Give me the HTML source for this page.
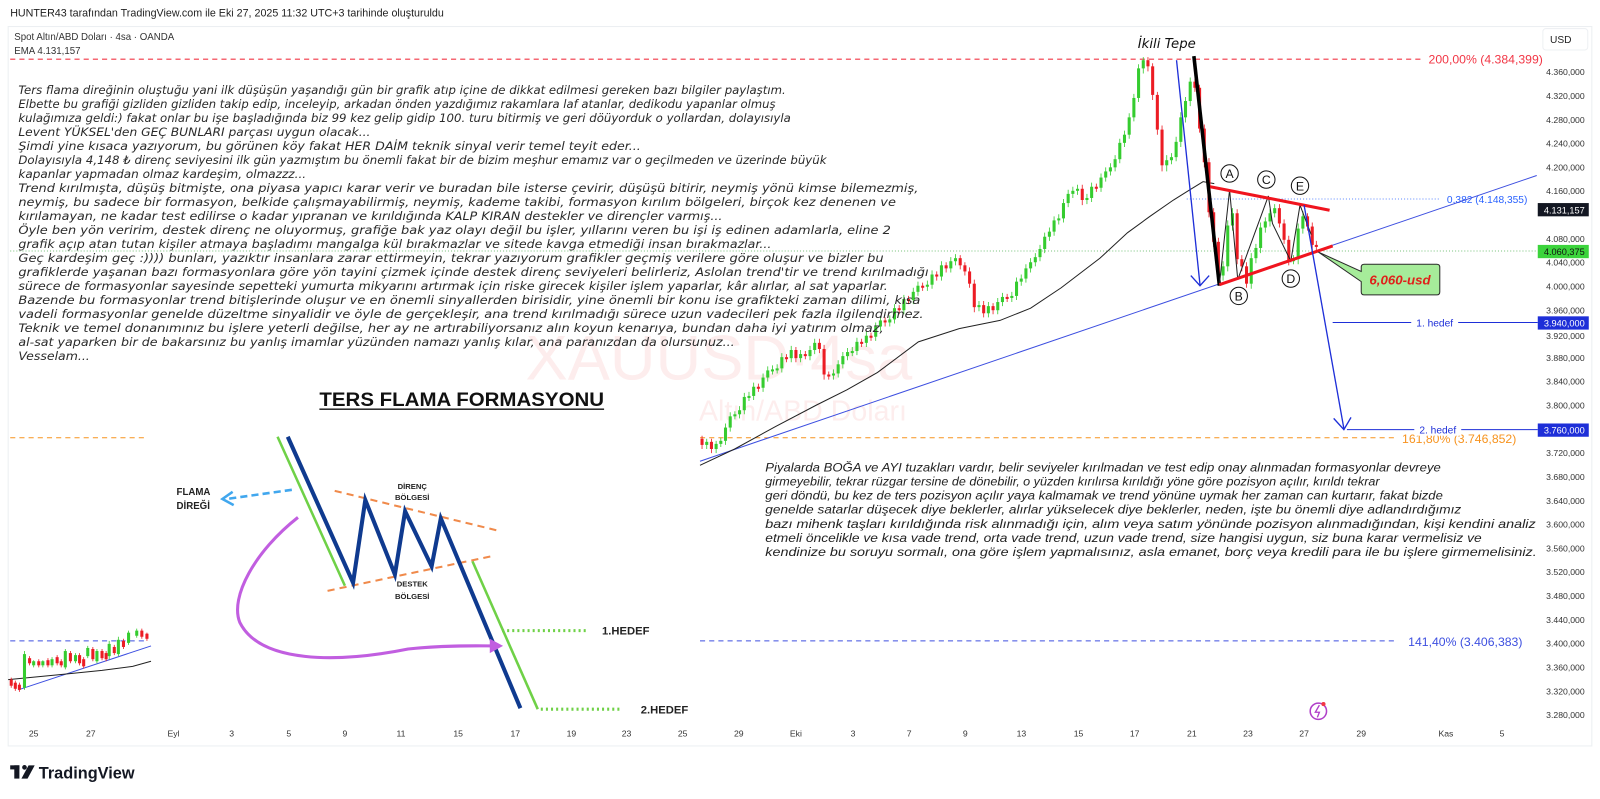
<!DOCTYPE html>
<html><head><meta charset="utf-8"><style>
html,body{margin:0;padding:0;background:#fff;overflow:hidden}
svg{display:block}
.lt{font-family:"DejaVu Sans","Liberation Sans",sans-serif;font-style:italic;font-size:11.6px;fill:#2a2a2a}
.rt{font-family:"Liberation Sans",sans-serif;font-style:italic;font-size:12px;fill:#222}
.ax{font-family:"Liberation Sans",sans-serif;font-size:8.5px;fill:#333}
.tx{font-family:"Liberation Sans",sans-serif;font-size:8.5px;fill:#333;text-anchor:middle}
.b{font-family:"Liberation Sans",sans-serif;font-weight:bold;fill:#222}
.g{fill:#35cc2f}.r{fill:#ec1c24}
</style></head><body>
<svg width="1600" height="799" viewBox="0 0 1568 783" preserveAspectRatio="none" xmlns="http://www.w3.org/2000/svg">
<rect x="0" y="0" width="1568" height="783" fill="#fff"/>
<text x="10" y="16" font-family="Liberation Sans,sans-serif" font-size="10.5" fill="#222">HUNTER43 tarafından TradingView.com ile Eki 27, 2025 11:32 UTC+3 tarihinde oluşturuldu</text>
<rect x="8" y="26" width="1552" height="705" fill="none" stroke="#eceff2" stroke-width="1"/>
<text x="14" y="39" font-family="Liberation Sans,sans-serif" font-size="9.5" fill="#333">Spot Altın/ABD Doları · 4sa · OANDA</text>
<text x="14" y="53" font-family="Liberation Sans,sans-serif" font-size="9.5" fill="#333">EMA  4.131,157</text>
<text x="515" y="372" font-family="Liberation Sans,sans-serif" font-size="62" fill="#fdeded">XAUUSD·4sa</text>
<text x="685" y="412" font-family="Liberation Sans,sans-serif" font-size="28" fill="#fdeded">Altın/ABD Doları</text>
<line x1="10" y1="58" x2="1395" y2="58" stroke="#f23645" stroke-width="1" stroke-dasharray="5,4"/>
<text x="1400" y="62" font-family="Liberation Sans,sans-serif" font-size="12" fill="#f23645">200,00% (4.384,399)</text>
<line x1="10" y1="246" x2="1507" y2="246" stroke="#4caf50" stroke-width="0.8" stroke-dasharray="1,2"/>
<line x1="1163" y1="195" x2="1410" y2="195" stroke="#2962ff" stroke-width="0.8" stroke-dasharray="1,2"/>
<text x="1418" y="199" font-family="Liberation Sans,sans-serif" font-size="10" fill="#2962ff">0,382 (4.148,355)</text>
<line x1="10" y1="429" x2="145" y2="429" stroke="#f7931e" stroke-width="1" stroke-dasharray="5,4"/>
<line x1="686" y1="429" x2="1368" y2="429" stroke="#f7931e" stroke-width="1" stroke-dasharray="5,4"/>
<text x="1374" y="434" font-family="Liberation Sans,sans-serif" font-size="12" fill="#f7931e">161,80% (3.746,852)</text>
<line x1="10" y1="628" x2="145" y2="628" stroke="#3d4fe0" stroke-width="1" stroke-dasharray="5,4"/>
<line x1="686" y1="628" x2="1368" y2="628" stroke="#3d4fe0" stroke-width="1" stroke-dasharray="5,4"/>
<text x="1380" y="633" font-family="Liberation Sans,sans-serif" font-size="12" fill="#3d4fe0">141,40% (3.406,383)</text>
<line x1="1306" y1="316" x2="1507" y2="316" stroke="#1e2fd8" stroke-width="1"/>
<rect x="1383" y="310" width="46" height="12" fill="#fff"/>
<text x="1406" y="320" text-anchor="middle" font-family="Liberation Sans,sans-serif" font-size="10" fill="#1e2fd8">1. hedef</text>
<line x1="1320" y1="421" x2="1507" y2="421" stroke="#1e2fd8" stroke-width="1"/>
<rect x="1386" y="415" width="46" height="12" fill="#fff"/>
<text x="1409" y="425" text-anchor="middle" font-family="Liberation Sans,sans-serif" font-size="10" fill="#1e2fd8">2. hedef</text>
<line x1="686" y1="452" x2="1506" y2="172" stroke="#3d4fe0" stroke-width="1"/>
<polyline fill="none" stroke="#222" stroke-width="1" points="686,456 720,440 760,418 800,397 830,382 860,365 900,335 940,322 980,314 1010,302 1040,282 1078,253 1105,228 1127,212 1150,196 1166,186 1179,178 1190,180"/>
<path stroke="#35cc2f" stroke-width="0.8" d="M692.6 430V440M701.8 432V444M706.4 429V438M711 415V436M715.6 404V423M720.2 403V411M724.8 398V410M729.4 385V406M734 384V393M738.6 375V392M747.8 366V384M752.4 359V374M757 358V367M761.6 357V366M766.2 346V365M775.4 339V355M784.6 343V355M793.8 339V353M798.4 332V347M816.8 362V372M821.4 353V370M826 345V361M830.6 341V353M835.2 340V349M839.8 331V348M849 325V340M858.2 316V334M862.8 310V324M872 309V320M876.6 298V317M885.8 289V308M895 282V298M899.6 276V290M908.8 275V285M913.4 265V283M922.6 256V275M931.8 252V267M936.4 249V260M959.4 295V305M968.6 296V311M977.8 292V308M982.4 287V300M991.6 286V296M996.2 272V294M1000.8 269V280M1005.4 259V277M1010 253V267M1014.6 248V261M1019.2 240V256M1023.8 228V248M1028.4 223V236M1033 212V231M1037.6 210V220M1042.2 195V218M1046.8 186V203M1051.4 183V194M1056 181V191M1065.2 190V200M1069.8 179V198M1079 170V188M1083.6 164V178M1088.2 160V172M1092.8 152V168M1097.4 136V160M1102 128V144M1106.6 111V136M1111.2 92V119M1115.8 63V100M1120.4 56V72M1143.4 152V168M1148 150V161M1152.6 134V158M1157.2 110V144M1161.8 95V120M1166.4 76V104M1198.6 256V275M1203.2 216V266M1207.8 204V226M1226.2 248V283M1230.8 239V258M1235.4 218V248M1240 213V228M1244.6 205V222M1249.2 200V213M1267.6 250V259M1272.2 219V259M1276.8 207V229"/>
<path stroke="#ec1c24" stroke-width="0.8" d="M688 427V440M697.2 430V444M743.2 376V384M770.8 347V355M780 340V355M789.2 344V352M803 332V346M807.6 338V372M812.2 364V372M844.4 332V340M853.6 326V334M867.4 311V320M881.2 299V308M890.4 290V298M904.2 277V285M918 266V275M927.2 257V267M941 250V264M945.6 257V270M950.2 262V282M954.8 274V306M964 295V311M973.2 297V308M987 288V296M1060.6 181V201M1074.4 180V188M1125 56V70M1129.6 62V98M1134.2 90V132M1138.8 123V168M1171 77V90M1175.6 83V130M1180.2 122V164M1184.8 155V213M1189.4 204V242M1194 233V276M1212.4 205V259M1217 250V266M1221.6 257V282M1253.8 200V223M1258.4 215V239M1263 231V260M1281.4 209V226M1286 218V245M1290 236V246"/>
<g class="g">
<rect x="691.1" y="433" width="3" height="3"/><rect x="700.3" y="435" width="3" height="5"/><rect x="704.9" y="432" width="3" height="3"/><rect x="709.5" y="419" width="3" height="13"/><rect x="714.1" y="408" width="3" height="11"/><rect x="718.7" y="406" width="3" height="2"/><rect x="723.3" y="402" width="3" height="4"/><rect x="727.9" y="389" width="3" height="13"/><rect x="732.5" y="388" width="3" height="2"/><rect x="737.1" y="379" width="3" height="9"/><rect x="746.3" y="370" width="3" height="10"/><rect x="750.9" y="363" width="3" height="7"/><rect x="755.5" y="362" width="3" height="2"/><rect x="760.1" y="361" width="3" height="2"/><rect x="764.7" y="350" width="3" height="11"/><rect x="773.9" y="343" width="3" height="8"/><rect x="783.1" y="347" width="3" height="4"/><rect x="792.3" y="343" width="3" height="6"/><rect x="796.9" y="336" width="3" height="7"/><rect x="815.3" y="366" width="3" height="2"/><rect x="819.9" y="357" width="3" height="9"/><rect x="824.5" y="349" width="3" height="8"/><rect x="829.1" y="345" width="3" height="4"/><rect x="833.7" y="344" width="3" height="2"/><rect x="838.3" y="335" width="3" height="9"/><rect x="847.5" y="329" width="3" height="7"/><rect x="856.7" y="320" width="3" height="10"/><rect x="861.3" y="314" width="3" height="6"/><rect x="870.5" y="313" width="3" height="3"/><rect x="875.1" y="302" width="3" height="11"/><rect x="884.3" y="293" width="3" height="11"/><rect x="893.5" y="286" width="3" height="8"/><rect x="898.1" y="280" width="3" height="6"/><rect x="907.3" y="279" width="3" height="2"/><rect x="911.9" y="269" width="3" height="10"/><rect x="921.1" y="260" width="3" height="11"/><rect x="930.3" y="256" width="3" height="7"/><rect x="934.9" y="253" width="3" height="3"/><rect x="957.9" y="299" width="3" height="2"/><rect x="967.1" y="300" width="3" height="7"/><rect x="976.3" y="296" width="3" height="8"/><rect x="980.9" y="291" width="3" height="5"/><rect x="990.1" y="290" width="3" height="2"/><rect x="994.7" y="276" width="3" height="14"/><rect x="999.3" y="273" width="3" height="3"/><rect x="1003.9" y="263" width="3" height="10"/><rect x="1008.5" y="257" width="3" height="6"/><rect x="1013.1" y="252" width="3" height="5"/><rect x="1017.7" y="244" width="3" height="8"/><rect x="1022.3" y="232" width="3" height="12"/><rect x="1026.9" y="227" width="3" height="5"/><rect x="1031.5" y="216" width="3" height="11"/><rect x="1036.1" y="214" width="3" height="2"/><rect x="1040.7" y="199" width="3" height="15"/><rect x="1045.3" y="190" width="3" height="9"/><rect x="1049.9" y="187" width="3" height="3"/><rect x="1054.5" y="185" width="3" height="2"/><rect x="1063.7" y="194" width="3" height="2"/><rect x="1068.3" y="183" width="3" height="11"/><rect x="1077.5" y="174" width="3" height="10"/><rect x="1082.1" y="168" width="3" height="6"/><rect x="1086.7" y="164" width="3" height="4"/><rect x="1091.3" y="156" width="3" height="8"/><rect x="1095.9" y="140" width="3" height="16"/><rect x="1100.5" y="132" width="3" height="8"/><rect x="1105.1" y="115" width="3" height="17"/><rect x="1109.7" y="96" width="3" height="19"/><rect x="1114.3" y="67" width="3" height="29"/><rect x="1118.9" y="59" width="3" height="8"/><rect x="1141.9" y="157" width="3" height="5"/><rect x="1146.5" y="154" width="3" height="3"/><rect x="1151.1" y="139" width="3" height="15"/><rect x="1155.7" y="115" width="3" height="24"/><rect x="1160.3" y="99" width="3" height="16"/><rect x="1164.9" y="80" width="3" height="19"/><rect x="1197.1" y="261" width="3" height="9"/><rect x="1201.7" y="221" width="3" height="40"/><rect x="1206.3" y="209" width="3" height="12"/><rect x="1224.7" y="253" width="3" height="25"/><rect x="1229.3" y="243" width="3" height="10"/><rect x="1233.9" y="223" width="3" height="20"/><rect x="1238.5" y="217" width="3" height="6"/><rect x="1243.1" y="209" width="3" height="8"/><rect x="1247.7" y="204" width="3" height="5"/><rect x="1266.1" y="254" width="3" height="2"/><rect x="1270.7" y="224" width="3" height="30"/><rect x="1275.3" y="212" width="3" height="12"/>
</g>
<g class="r">
<rect x="686.5" y="430" width="3" height="6"/><rect x="695.7" y="433" width="3" height="7"/><rect x="741.7" y="379" width="3" height="2"/><rect x="769.3" y="350" width="3" height="2"/><rect x="778.5" y="343" width="3" height="8"/><rect x="787.7" y="347" width="3" height="2"/><rect x="801.5" y="336" width="3" height="6"/><rect x="806.1" y="342" width="3" height="25"/><rect x="810.7" y="367" width="3" height="2"/><rect x="842.9" y="335" width="3" height="2"/><rect x="852.1" y="329" width="3" height="2"/><rect x="865.9" y="314" width="3" height="2"/><rect x="879.7" y="302" width="3" height="2"/><rect x="888.9" y="293" width="3" height="2"/><rect x="902.7" y="280" width="3" height="2"/><rect x="916.5" y="269" width="3" height="2"/><rect x="925.7" y="260" width="3" height="3"/><rect x="939.5" y="253" width="3" height="7"/><rect x="944.1" y="260" width="3" height="6"/><rect x="948.7" y="266" width="3" height="12"/><rect x="953.3" y="278" width="3" height="23"/><rect x="962.5" y="299" width="3" height="8"/><rect x="971.7" y="300" width="3" height="4"/><rect x="985.5" y="291" width="3" height="2"/><rect x="1059.1" y="185" width="3" height="11"/><rect x="1072.9" y="183" width="3" height="2"/><rect x="1123.5" y="59" width="3" height="6"/><rect x="1128.1" y="65" width="3" height="28"/><rect x="1132.7" y="93" width="3" height="34"/><rect x="1137.3" y="127" width="3" height="35"/><rect x="1169.5" y="80" width="3" height="6"/><rect x="1174.1" y="86" width="3" height="40"/><rect x="1178.7" y="126" width="3" height="33"/><rect x="1183.3" y="159" width="3" height="49"/><rect x="1187.9" y="208" width="3" height="29"/><rect x="1192.5" y="237" width="3" height="33"/><rect x="1210.9" y="209" width="3" height="45"/><rect x="1215.5" y="254" width="3" height="7"/><rect x="1220.1" y="261" width="3" height="17"/><rect x="1252.3" y="204" width="3" height="15"/><rect x="1256.9" y="219" width="3" height="16"/><rect x="1261.5" y="235" width="3" height="20"/><rect x="1279.9" y="212" width="3" height="10"/><rect x="1284.5" y="222" width="3" height="18"/><rect x="1288.5" y="240" width="3" height="2"/>
</g>
<line x1="18" y1="676" x2="148" y2="633" stroke="#3d4fe0" stroke-width="1"/>
<polyline fill="none" stroke="#222" stroke-width="1" points="8,666 60,661 100,657 130,653 148,648"/>
<path stroke="#35cc2f" stroke-width="0.8" d="M24 638V676M33 647V654M42 647V654M51 644V654M64 636V656M74 640V650M86 633V645M95 636V650M107 628V646M116 624V643M126 618V632M134 616V625"/>
<path stroke="#ec1c24" stroke-width="0.8" d="M11 664V674M15 667V677M19 669V678M29 643V652M38 646V654M47 645V654M56 642V652M60 646V654M69 638V650M78 640V652M82 644V655M91 634V648M100 636V647M104 638V648M112 632V642M121 626V636M139 616V626M144 620V628"/>
<g class="g"><rect x="22.5" y="641" width="3" height="33"/><rect x="31.5" y="648" width="3" height="4"/><rect x="40.5" y="648" width="3" height="4"/><rect x="49.5" y="646" width="3" height="6"/><rect x="62.5" y="638" width="3" height="16"/><rect x="72.5" y="642" width="3" height="6"/><rect x="84.5" y="635" width="3" height="8"/><rect x="93.5" y="638" width="3" height="10"/><rect x="105.5" y="631" width="3" height="12"/><rect x="114.5" y="627" width="3" height="14"/><rect x="124.5" y="620" width="3" height="10"/><rect x="132.5" y="618" width="3" height="5"/></g>
<g class="r"><rect x="9.5" y="666" width="3" height="6"/><rect x="13.5" y="669" width="3" height="6"/><rect x="17.5" y="671" width="3" height="5"/><rect x="27.5" y="645" width="3" height="5"/><rect x="36.5" y="648" width="3" height="4"/><rect x="45.5" y="647" width="3" height="5"/><rect x="54.5" y="644" width="3" height="6"/><rect x="58.5" y="648" width="3" height="4"/><rect x="67.5" y="640" width="3" height="8"/><rect x="76.5" y="642" width="3" height="8"/><rect x="80.5" y="646" width="3" height="7"/><rect x="89.5" y="636" width="3" height="10"/><rect x="98.5" y="638" width="3" height="7"/><rect x="102.5" y="640" width="3" height="6"/><rect x="110.5" y="634" width="3" height="6"/><rect x="119.5" y="628" width="3" height="6"/><rect x="137.5" y="618" width="3" height="6"/><rect x="142.5" y="621" width="3" height="5"/></g>
<line x1="1153" y1="59" x2="1176" y2="279" stroke="#1e2fd8" stroke-width="1.3"/>
<polyline points="1167,270 1176,280 1185,270" fill="none" stroke="#1e2fd8" stroke-width="1.3"/>
<line x1="1170" y1="55" x2="1195" y2="280" stroke="#000" stroke-width="3.5"/>
<polyline fill="none" stroke="#222" stroke-width="1" points="1195,279 1205,186 1213,274 1243,192 1247,219 1265,256 1274,201 1285,230"/>
<line x1="1186" y1="183" x2="1303" y2="206" stroke="#f0141e" stroke-width="3"/>
<line x1="1195" y1="279" x2="1306" y2="241" stroke="#f0141e" stroke-width="3"/>
<line x1="1278" y1="201" x2="1317" y2="420" stroke="#1e2fd8" stroke-width="1.3"/>
<polyline points="1307,410 1317,421 1324,409" fill="none" stroke="#1e2fd8" stroke-width="1.3"/>
<g font-family="Liberation Sans,sans-serif" font-size="12" text-anchor="middle" fill="#111">
<circle cx="1205" cy="170" r="8.5" fill="#fff" stroke="#111"/><text x="1205" y="174.5">A</text>
<circle cx="1214" cy="290" r="8.5" fill="#fff" stroke="#111"/><text x="1214" y="294.5">B</text>
<circle cx="1241" cy="176" r="8.5" fill="#fff" stroke="#111"/><text x="1241" y="180.5">C</text>
<circle cx="1265" cy="273" r="8.5" fill="#fff" stroke="#111"/><text x="1265" y="277.5">D</text>
<circle cx="1274" cy="182" r="8.5" fill="#fff" stroke="#111"/><text x="1274" y="186.5">E</text>
</g>
<text x="1115" y="47" font-family="DejaVu Sans,sans-serif" font-style="italic" font-size="13" fill="#111">İkili Tepe</text>
<path d="M1292,247 L1334,266 L1334,262 Q1334,259 1337,259 L1408,259 Q1411,259 1411,262 L1411,286 Q1411,289 1408,289 L1337,289 Q1334,289 1334,286 L1334,276 Z" fill="#a6ec9a" stroke="#2a2a2a" stroke-width="1"/>
<text x="1372" y="279" text-anchor="middle" font-family="Liberation Sans,sans-serif" font-weight="bold" font-style="italic" font-size="13" fill="#e0201a">6,060-usd</text>
<g class="ax" text-anchor="end">
<text x="1553" y="73.6">4.360,000</text><text x="1553" y="96.9">4.320,000</text><text x="1553" y="120.3">4.280,000</text><text x="1553" y="143.6">4.240,000</text><text x="1553" y="167">4.200,000</text><text x="1553" y="190.3">4.160,000</text><text x="1553" y="237">4.080,000</text><text x="1553" y="260.3">4.040,000</text><text x="1553" y="283.7">4.000,000</text><text x="1553" y="307">3.960,000</text><text x="1553" y="332">3.920,000</text><text x="1553" y="353.7">3.880,000</text><text x="1553" y="377">3.840,000</text><text x="1553" y="400.4">3.800,000</text><text x="1553" y="447">3.720,000</text><text x="1553" y="470.4">3.680,000</text><text x="1553" y="493.7">3.640,000</text><text x="1553" y="517">3.600,000</text><text x="1553" y="540.4">3.560,000</text><text x="1553" y="563.7">3.520,000</text><text x="1553" y="587">3.480,000</text><text x="1553" y="610.4">3.440,000</text><text x="1553" y="633.7">3.400,000</text><text x="1553" y="657">3.360,000</text><text x="1553" y="680.4">3.320,000</text><text x="1553" y="703.7">3.280,000</text>
</g>
<rect x="1512" y="28" width="44" height="21" rx="3" fill="#fff" stroke="#eef0f3"/>
<text x="1519" y="42" font-family="Liberation Sans,sans-serif" font-size="10" fill="#222">USD</text>
<rect x="1507" y="199" width="50" height="13" fill="#131722"/>
<text x="1553" y="209" text-anchor="end" font-family="Liberation Sans,sans-serif" font-size="9" fill="#fff">4.131,157</text>
<rect x="1507" y="240" width="50" height="13" fill="#3cd43c"/>
<text x="1553" y="250" text-anchor="end" font-family="Liberation Sans,sans-serif" font-size="9" fill="#111">4.060,375</text>
<rect x="1507" y="310" width="50" height="13" fill="#1e2fd8"/>
<text x="1553" y="320" text-anchor="end" font-family="Liberation Sans,sans-serif" font-size="9" fill="#fff">3.940,000</text>
<rect x="1507" y="415" width="50" height="13" fill="#1e2fd8"/>
<text x="1553" y="425" text-anchor="end" font-family="Liberation Sans,sans-serif" font-size="9" fill="#fff">3.760,000</text>
<g class="tx">
<text x="33" y="722">25</text><text x="89" y="722">27</text><text x="170" y="722">Eyl</text><text x="227" y="722">3</text><text x="283" y="722">5</text><text x="338" y="722">9</text><text x="393" y="722">11</text><text x="449" y="722">15</text><text x="505" y="722">17</text><text x="560" y="722">19</text><text x="614" y="722">23</text><text x="669" y="722">25</text><text x="724" y="722">29</text><text x="780" y="722">Eki</text><text x="836" y="722">3</text><text x="891" y="722">7</text><text x="946" y="722">9</text><text x="1001" y="722">13</text><text x="1057" y="722">15</text><text x="1112" y="722">17</text><text x="1168" y="722">21</text><text x="1223" y="722">23</text><text x="1278" y="722">27</text><text x="1334" y="722">29</text><text x="1417" y="722">Kas</text><text x="1472" y="722">5</text>
</g>
<circle cx="1292" cy="697" r="8" fill="none" stroke="#b03fc9" stroke-width="1.5"/>
<path d="M1293,691 L1289,698 L1293,698 L1291,703" fill="none" stroke="#b03fc9" stroke-width="1.3"/>
<circle cx="1297" cy="690" r="2" fill="#f23645"/>
<text x="313" y="398" font-family="Liberation Sans,sans-serif" font-weight="bold" font-size="19" fill="#111" textLength="279" lengthAdjust="spacingAndGlyphs">TERS FLAMA FORMASYONU</text>
<line x1="313" y1="401" x2="592" y2="401" stroke="#111" stroke-width="1.3"/>
<line x1="272" y1="428" x2="338" y2="574" stroke="#6fd147" stroke-width="2.5"/>
<line x1="463" y1="550" x2="527" y2="695" stroke="#6fd147" stroke-width="2.5"/>
<line x1="328" y1="481" x2="488" y2="520" stroke="#f08a4b" stroke-width="2" stroke-dasharray="7,5"/>
<line x1="321" y1="579" x2="482" y2="545" stroke="#f08a4b" stroke-width="2" stroke-dasharray="7,5"/>
<polyline fill="none" stroke="#0f3a8f" stroke-width="4" points="282,428 346,571 358,490 387,563 397,501 423,555 432,508 510,694"/>
<line x1="286" y1="480" x2="222" y2="489" stroke="#41a7ee" stroke-width="2.5" stroke-dasharray="7,4"/>
<polyline points="228,482 218,489 229,495" fill="none" stroke="#41a7ee" stroke-width="2.5"/>
<path d="M292,507 C250,540 225,585 235,610 C255,650 330,650 400,636 C440,632 470,633 486,633" fill="none" stroke="#c15ee0" stroke-width="3"/>
<polygon points="480,626 493,633 480,640" fill="#c15ee0"/>
<line x1="492" y1="618" x2="575" y2="618" stroke="#6fd147" stroke-width="3" stroke-dasharray="2,3"/>
<line x1="530" y1="695" x2="610" y2="695" stroke="#6fd147" stroke-width="3" stroke-dasharray="2,3"/>
<text x="590" y="622" class="b" font-size="11">1.HEDEF</text>
<text x="628" y="699" class="b" font-size="11">2.HEDEF</text>
<text x="173" y="485" class="b" font-size="9.5">FLAMA</text>
<text x="173" y="499" class="b" font-size="9.5">DİREĞİ</text>
<text x="404" y="479" class="b" font-size="7.5" text-anchor="middle">DİRENÇ</text>
<text x="404" y="490" class="b" font-size="7.5" text-anchor="middle">BÖLGESİ</text>
<text x="404" y="575" class="b" font-size="7.5" text-anchor="middle">DESTEK</text>
<text x="404" y="587" class="b" font-size="7.5" text-anchor="middle">BÖLGESİ</text>
<g class="lt">
<text x="18" y="92" textLength="752" lengthAdjust="spacingAndGlyphs">Ters flama direğinin oluştuğu yani ilk düşüşün yaşandığı gün bir grafik atıp içine de dikkat edilmesi gereken bazı bilgiler paylaştım.</text>
<text x="18" y="105.7" textLength="742" lengthAdjust="spacingAndGlyphs">Elbette bu grafiği gizliden gizliden takip edip, inceleyip, arkadan önden yazdığımız rakamlara laf atanlar, dedikodu yapanlar olmuş</text>
<text x="18" y="119.4" textLength="757" lengthAdjust="spacingAndGlyphs">kulağımıza geldi:) fakat onlar bu işe başladığında biz 99 kez gelip gidip 100. turu bitirmiş ve geri döüyorduk o yollardan, dolayısıyla</text>
<text x="18" y="133.2" textLength="345" lengthAdjust="spacingAndGlyphs">Levent YÜKSEL'den GEÇ BUNLARI parçası uygun olacak...</text>
<text x="18" y="146.9" textLength="610" lengthAdjust="spacingAndGlyphs">Şimdi yine kısaca yazıyorum, bu görünen köy fakat HER DAİM teknik sinyal verir temel teyit eder...</text>
<text x="18" y="160.6" textLength="792" lengthAdjust="spacingAndGlyphs">Dolayısıyla 4,148 ₺ direnç seviyesini ilk gün yazmıştım bu önemli fakat bir de bizim meşhur emamız var o geçilmeden ve üzerinde büyük</text>
<text x="18" y="174.3" textLength="282" lengthAdjust="spacingAndGlyphs">kapanlar yapmadan olmaz kardeşim, olmazzz...</text>
<text x="18" y="188" textLength="882" lengthAdjust="spacingAndGlyphs">Trend kırılmışta, düşüş bitmişte, ona piyasa yapıcı karar verir ve buradan bile isterse çevirir, düşüşü bitirir, neymiş yönü kimse bilemezmiş,</text>
<text x="18" y="201.8" textLength="860" lengthAdjust="spacingAndGlyphs">neymiş, bu sadece bir formasyon, belkide çalışmayabilirmiş, neymiş, kademe takibi, formasyon kırılım bölgeleri, birçok kez denenen ve</text>
<text x="18" y="215.5" textLength="690" lengthAdjust="spacingAndGlyphs">kırılamayan, ne kadar test edilirse o kadar yıpranan ve kırıldığında KALP KIRAN destekler ve dirençler varmış...</text>
<text x="18" y="229.2" textLength="855" lengthAdjust="spacingAndGlyphs">Öyle ben yön veririm, destek direnç ne oluyormuş, grafiğe bak yaz olayı değil bu işler, yıllarını veren bu işi iş edinen adamlarla, eline 2</text>
<text x="18" y="242.9" textLength="738" lengthAdjust="spacingAndGlyphs">grafik açıp atan tutan kişiler atmaya başladımı mangalga kül bırakmazlar ve sitede kavga etmediği insan bırakmazlar...</text>
<text x="18" y="256.6" textLength="848" lengthAdjust="spacingAndGlyphs">Geç kardeşim geç :)))) bunları, yazıktır insanlara zarar ettirmeyin, tekrar yazıyorum grafikler geçmiş verilere göre oluşur ve bizler bu</text>
<text x="18" y="270.4" textLength="892" lengthAdjust="spacingAndGlyphs">grafiklerde yaşanan bazı formasyonlara göre yön tayini çizmek içinde destek direnç seviyeleri belirleriz, Aslolan trend'tir ve trend kırılmadığı</text>
<text x="18" y="284.1" textLength="852" lengthAdjust="spacingAndGlyphs">sürece de formasyonlar sayesinde sepetteki yumurta mikyarını artırmak için riske girecek kişiler işlem yaparlar, kâr alırlar, al sat yaparlar.</text>
<text x="18" y="297.8" textLength="884" lengthAdjust="spacingAndGlyphs">Bazende bu formasyonlar trend bitişlerinde oluşur ve en önemli sinyallerden birisidir, yine önemli bir konu ise grafikteki zaman dilimi, kısa</text>
<text x="18" y="311.5" textLength="887" lengthAdjust="spacingAndGlyphs">vadeli formasyonlar genelde düzeltme sinyalidir ve öyle de gerçekleşir, ana trend kırılmadığı sürece uzun vadecileri pek fazla ilgilendirmez.</text>
<text x="18" y="325.2" textLength="848" lengthAdjust="spacingAndGlyphs">Teknik ve temel donanımınız bu işlere yeterli değilse, her ay ne artırabiliyorsanız alın koyun kenarıya, bundan daha iyi yatırım olmaz,</text>
<text x="18" y="339" textLength="702" lengthAdjust="spacingAndGlyphs">al-sat yaparken bir de bakarsınız bu yanlış imamlar yüzünden namazı yanlış kılar, ana paranızdan da olursunuz...</text>
<text x="18" y="352.7" textLength="70" lengthAdjust="spacingAndGlyphs">Vesselam...</text>
</g>
<g class="rt">
<text x="750" y="462" textLength="662" lengthAdjust="spacingAndGlyphs">Piyalarda BOĞA ve AYI tuzakları vardır, belir seviyeler kırılmadan ve test edip onay alınmadan formasyonlar devreye</text>
<text x="750" y="475.8" textLength="602" lengthAdjust="spacingAndGlyphs">girmeyebilir, tekrar rüzgar tersine de dönebilir, o yüzden kırılırsa kırıldığı yöne göre pozisyon açılır, kırıldı tekrar</text>
<text x="750" y="489.6" textLength="664" lengthAdjust="spacingAndGlyphs">geri döndü, bu kez de ters pozisyon açılır yaya kalmamak ve trend yönüne uymak her zaman can kurtarır, fakat bizde</text>
<text x="750" y="503.4" textLength="682" lengthAdjust="spacingAndGlyphs">genelde satarlar düşecek diye beklerler, alırlar yükselecek diye beklerler, neden, işte bu önemli diye adlandırdığımız</text>
<text x="750" y="517.2" textLength="755" lengthAdjust="spacingAndGlyphs">bazı mihenk taşları kırıldığında risk alınmadığı için, alım veya  satım yönünde pozisyon alınmadığından, kişi kendini analiz</text>
<text x="750" y="531" textLength="702" lengthAdjust="spacingAndGlyphs">etmeli öncelikle ve kısa vade trend, orta vade trend, uzun vade trend, size hangisi uygun, siz buna karar vermelisiz ve</text>
<text x="750" y="544.8" textLength="756" lengthAdjust="spacingAndGlyphs">kendinize bu soruyu sormalı, ona göre işlem yapmalısınız, asla emanet, borç veya kredili para ile bu işlere girmemelisiniz.</text>
</g>
<rect x="10" y="750" width="9" height="4" fill="#131722"/><rect x="14" y="750" width="5" height="13" fill="#131722"/><circle cx="24" cy="752" r="2.3" fill="#131722"/><polygon points="28,750 34,750 27,763 21,763" fill="#131722"/>
<text x="38" y="763" font-family="Liberation Sans,sans-serif" font-weight="bold" font-size="16" fill="#131722">TradingView</text>
</svg>
</body></html>
